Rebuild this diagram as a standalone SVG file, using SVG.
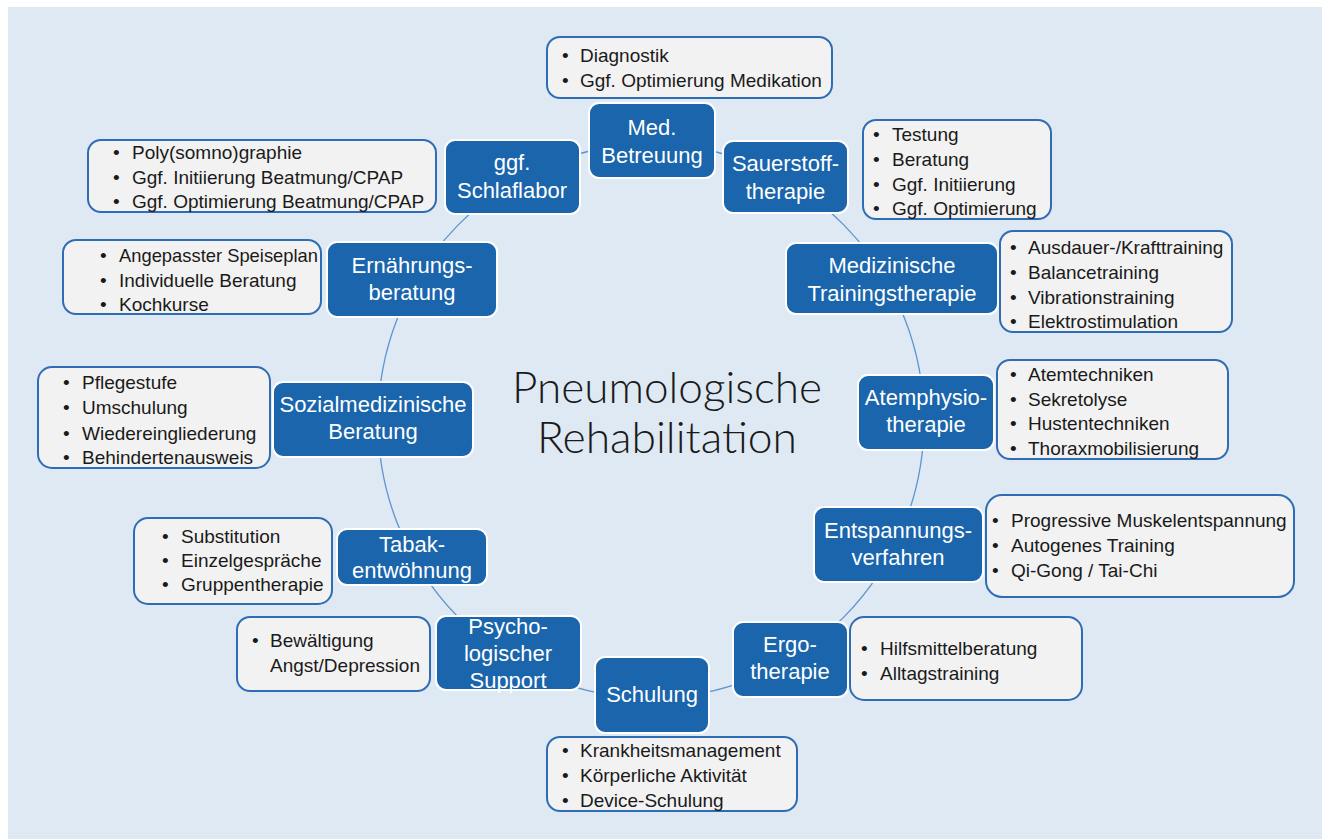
<svg xmlns="http://www.w3.org/2000/svg" width="1322" height="839" viewBox="0 0 1322 839">
<style>
.bg{fill:#dfe9f4}
.node rect{fill:#1a65ab;stroke:#ffffff;stroke-width:2}
.node text{fill:#ffffff;font-family:"Liberation Sans",Arial,sans-serif;font-size:22px;text-anchor:middle}
.list rect{fill:#f2f2f2;stroke:#2e6db5;stroke-width:2}
.list text{fill:#1a1a1a;font-family:"Liberation Sans",Arial,sans-serif;font-size:19px}
.ring{fill:none;stroke:#5d95cf;stroke-width:1.3}
.title{fill:#1a1a1a;font-family:"Lato","Liberation Sans",sans-serif;font-weight:300;font-size:44px;text-anchor:middle}
</style>
<rect class="bg" x="8" y="7" width="1314" height="832"/>
<g id="connectors">
<ellipse class="ring" cx="651" cy="421" rx="273" ry="277"/>
</g>
<g id="title">
<text class="title" x="667" y="403" textLength="310" lengthAdjust="spacingAndGlyphs">Pneumologische</text>
<text class="title" x="667" y="453" textLength="260" lengthAdjust="spacingAndGlyphs">Rehabilitation</text>
</g>
<g id="n-med" class="node"><rect x="589" y="103" width="126" height="75" rx="10"/><text x="652" y="135">Med.</text><text x="652" y="163">Betreuung</text></g>
<g id="n-sauerstoff" class="node"><rect x="723" y="141" width="125" height="72" rx="10"/><text x="785.5" y="171">Sauerstoff-</text><text x="785.5" y="199">therapie</text></g>
<g id="n-training" class="node"><rect x="786" y="243" width="212" height="71" rx="10"/><text x="892" y="273">Medizinische</text><text x="892" y="301">Trainingstherapie</text></g>
<g id="n-atem" class="node"><rect x="858" y="375" width="136" height="75" rx="10"/><text x="926" y="405">Atemphysio-</text><text x="926" y="432">therapie</text></g>
<g id="n-entsp" class="node"><rect x="814" y="507" width="169" height="75" rx="10"/><text x="898" y="538">Entspannungs-</text><text x="898" y="565">verfahren</text></g>
<g id="n-ergo" class="node"><rect x="733" y="622" width="115" height="75" rx="10"/><text x="790" y="652">Ergo-</text><text x="790" y="679">therapie</text></g>
<g id="n-schulung" class="node"><rect x="595" y="657" width="114" height="76" rx="10"/><text x="652" y="702">Schulung</text></g>
<g id="n-psycho" class="node"><rect x="436" y="616" width="145" height="74" rx="10"/><text x="508" y="634">Psycho-</text><text x="508" y="661">logischer</text><text x="508" y="688">Support</text></g>
<g id="n-tabak" class="node"><rect x="337" y="529" width="150" height="56" rx="10"/><text x="412" y="552">Tabak-</text><text x="412" y="578">entwöhnung</text></g>
<g id="n-sozial" class="node"><rect x="273" y="382" width="200" height="75" rx="10"/><text x="373" y="412">Sozialmedizinische</text><text x="373" y="439">Beratung</text></g>
<g id="n-ernaehrung" class="node"><rect x="327" y="242" width="170" height="75" rx="10"/><text x="412" y="273">Ernährungs-</text><text x="412" y="300">beratung</text></g>
<g id="n-schlaf" class="node"><rect x="445" y="140" width="135" height="74" rx="10"/><text x="512" y="170">ggf.</text><text x="512" y="198">Schlaflabor</text></g>

<g id="l-med" class="list"><rect x="547" y="37" width="285" height="61" rx="13"/>
<text x="562" y="62">•</text><text x="580" y="62">Diagnostik</text>
<text x="562" y="87">•</text><text x="580" y="87">Ggf. Optimierung Medikation</text></g>
<g id="l-sauerstoff" class="list"><rect x="863" y="120" width="188" height="99" rx="13"/>
<text x="873" y="141">•</text><text x="892" y="141">Testung</text>
<text x="873" y="166">•</text><text x="892" y="166">Beratung</text>
<text x="873" y="191">•</text><text x="892" y="191">Ggf. Initiierung</text>
<text x="873" y="215">•</text><text x="892" y="215">Ggf. Optimierung</text></g>
<g id="l-training" class="list"><rect x="1000" y="231" width="232" height="101" rx="13"/>
<text x="1010" y="254">•</text><text x="1028" y="254">Ausdauer-/Krafttraining</text>
<text x="1010" y="279">•</text><text x="1028" y="279">Balancetraining</text>
<text x="1010" y="304">•</text><text x="1028" y="304">Vibrationstraining</text>
<text x="1010" y="328">•</text><text x="1028" y="328">Elektrostimulation</text></g>
<g id="l-atem" class="list"><rect x="997" y="360" width="231" height="99" rx="13"/>
<text x="1010" y="381">•</text><text x="1028" y="381">Atemtechniken</text>
<text x="1010" y="406">•</text><text x="1028" y="406">Sekretolyse</text>
<text x="1010" y="430">•</text><text x="1028" y="430">Hustentechniken</text>
<text x="1010" y="455">•</text><text x="1028" y="455">Thoraxmobilisierung</text></g>
<g id="l-entsp" class="list"><rect x="986" y="495" width="308" height="102" rx="16"/>
<text x="992" y="527">•</text><text x="1011" y="527">Progressive Muskelentspannung</text>
<text x="992" y="552">•</text><text x="1011" y="552">Autogenes Training</text>
<text x="992" y="577">•</text><text x="1011" y="577">Qi-Gong / Tai-Chi</text></g>
<g id="l-ergo" class="list"><rect x="850" y="617" width="232" height="83" rx="14"/>
<text x="861" y="655">•</text><text x="880" y="655">Hilfsmittelberatung</text>
<text x="861" y="680">•</text><text x="880" y="680">Alltagstraining</text></g>
<g id="l-schulung" class="list"><rect x="547" y="737" width="250" height="74" rx="13"/>
<text x="562" y="757">•</text><text x="580" y="757">Krankheitsmanagement</text>
<text x="562" y="782">•</text><text x="580" y="782">Körperliche Aktivität</text>
<text x="562" y="807">•</text><text x="580" y="807">Device-Schulung</text></g>
<g id="l-psycho" class="list"><rect x="237" y="617" width="193" height="74" rx="13"/>
<text x="252" y="647">•</text><text x="270" y="647">Bewältigung</text>
<text x="270" y="672">Angst/Depression</text></g>
<g id="l-tabak" class="list"><rect x="134" y="518" width="198" height="86" rx="14"/>
<text x="162" y="543">•</text><text x="181" y="543">Substitution</text>
<text x="162" y="567">•</text><text x="181" y="567">Einzelgespräche</text>
<text x="162" y="591">•</text><text x="181" y="591">Gruppentherapie</text></g>
<g id="l-sozial" class="list"><rect x="38" y="367" width="232" height="101" rx="14"/>
<text x="63" y="389">•</text><text x="82" y="389">Pflegestufe</text>
<text x="63" y="414">•</text><text x="82" y="414">Umschulung</text>
<text x="63" y="440">•</text><text x="82" y="440">Wiedereingliederung</text>
<text x="63" y="464">•</text><text x="82" y="464">Behindertenausweis</text></g>
<g id="l-ernaehrung" class="list"><rect x="63" y="240" width="258" height="74" rx="13"/>
<text x="100" y="262">•</text><text x="119" y="262" textLength="199" lengthAdjust="spacingAndGlyphs">Angepasster Speiseplan</text>
<text x="100" y="287">•</text><text x="119" y="287">Individuelle Beratung</text>
<text x="100" y="311">•</text><text x="119" y="311">Kochkurse</text></g>
<g id="l-schlaf" class="list"><rect x="88" y="140" width="348" height="72" rx="13"/>
<text x="113" y="159">•</text><text x="132" y="159">Poly(somno)graphie</text>
<text x="113" y="184">•</text><text x="132" y="184">Ggf. Initiierung Beatmung/CPAP</text>
<text x="113" y="208">•</text><text x="132" y="208">Ggf. Optimierung Beatmung/CPAP</text></g>
</svg>
